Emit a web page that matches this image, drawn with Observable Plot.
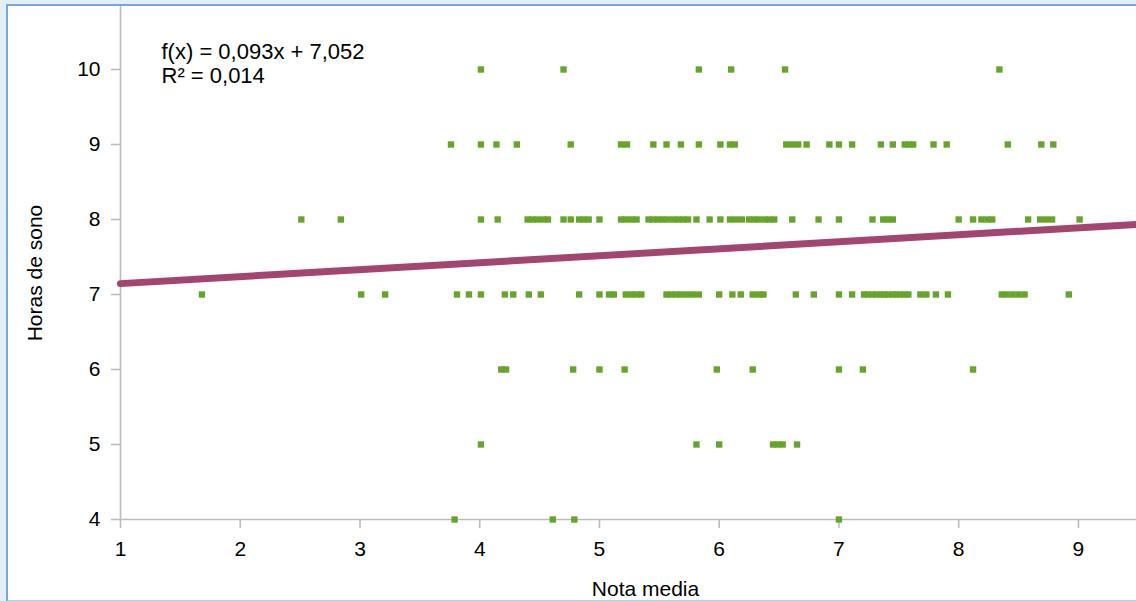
<!DOCTYPE html>
<html>
<head>
<meta charset="utf-8">
<script src="https://cdn.jsdelivr.net/npm/d3@7"></script>
<script src="https://cdn.jsdelivr.net/npm/@observablehq/plot@0.6"></script>
<style>
  html, body { margin: 0; padding: 0; background: #e2eef8; overflow: hidden; }
  #wrap { position: relative; width: 1136px; height: 601px; overflow: hidden; }
  #panel { position: absolute; left: 6px; top: 4px; width: 1140px; height: 594px;
           background: #ffffff; border-left: 2px solid #78a6d8; border-top: 2px solid #78a6d8;
           border-bottom: 2px solid #b4d0ec; }
  #chart { position: absolute; left: 0; top: 0; }
</style>
</head>
<body>
<div id="wrap"><div id="panel"></div><div id="chart"></div></div>
<script>
// Nota media (x) for each value of Horas de sono (y)
const horas10 = [4.01, 4.70, 5.83, 6.10, 6.55, 8.34];
const horas9 = [3.76, 4.01, 4.14, 4.31, 4.76, 5.18, 5.23, 5.45, 5.56, 5.68, 5.83, 6.01, 6.09, 6.13,
  6.56, 6.61, 6.66, 6.73, 6.92, 7.00, 7.11, 7.35, 7.45, 7.55, 7.59, 7.62, 7.79, 7.90, 8.41, 8.69, 8.79];
const horas8 = [2.51, 2.84, 4.01, 4.15, 4.40, 4.44, 4.48, 4.53, 4.57, 4.70, 4.76, 4.83, 4.87, 4.91,
  5.00, 5.18, 5.22, 5.27, 5.31, 5.41, 5.45, 5.49, 5.53, 5.57, 5.62, 5.66, 5.70, 5.74, 5.81, 5.92,
  6.01, 6.09, 6.14, 6.19, 6.25, 6.29, 6.33, 6.38, 6.42, 6.46, 6.61, 6.83, 7.00, 7.28, 7.37, 7.41,
  7.45, 8.00, 8.12, 8.19, 8.24, 8.28, 8.58, 8.68, 8.73, 8.78, 9.01];
const horas7 = [1.68, 3.01, 3.21, 3.81, 3.91, 4.01, 4.21, 4.28, 4.41, 4.51, 4.83, 5.00, 5.08, 5.12,
  5.22, 5.27, 5.31, 5.35, 5.56, 5.60, 5.64, 5.68, 5.73, 5.78, 5.83, 6.00, 6.11, 6.18, 6.28, 6.33,
  6.37, 6.64, 6.79, 7.00, 7.11, 7.21, 7.24, 7.28, 7.31, 7.35, 7.38, 7.41, 7.45, 7.48, 7.51, 7.55,
  7.58, 7.68, 7.73, 7.81, 7.91, 8.36, 8.40, 8.45, 8.50, 8.55, 8.92];
const horas6 = [4.18, 4.22, 4.78, 5.00, 5.21, 5.98, 6.28, 7.00, 7.20, 8.12];
const horas5 = [4.01, 5.81, 6.00, 6.45, 6.49, 6.53, 6.65];
const horas4 = [3.79, 4.61, 4.79, 7.00];

const xTicks = [1, 2, 3, 4, 5, 6, 7, 8, 9];
const yTicks = [4, 5, 6, 7, 8, 9, 10];
const xDomain = [1, 9.485];
const yDomain = [4, 10.84];

// Trend line (linear regression shown on the chart)
const slope = 0.093;
const intercept = 7.052;
const r2 = 0.014;

const rows = [[4, horas4], [5, horas5], [6, horas6], [7, horas7], [8, horas8], [9, horas9], [10, horas10]];
const data = rows.flatMap(([h, xs]) => xs.map(n => ({nota: n, horas: h})));
const trend = xDomain.map(x => ({nota: x, horas: intercept + slope * x}));
const fmt = (v, d) => v.toFixed(d).replace(".", ",");
const eqText = `f(x) = ${fmt(slope, 3)}x + ${fmt(intercept, 3)}\nR² = ${fmt(r2, 3)}`;

const axisColor = "#bcbcbc";
const chart = Plot.plot({
  width: 1136,
  height: 601,
  marginLeft: 120,
  marginRight: 0,
  marginTop: 6,
  marginBottom: 82,
  style: {background: "transparent", fontFamily: "'Liberation Sans', Arial, sans-serif", fontSize: "21px", color: "#000"},
  x: {domain: xDomain},
  y: {domain: yDomain},
  marks: [
    Plot.ruleX([xDomain[0]], {stroke: axisColor, strokeWidth: 1.6}),
    Plot.ruleY([yDomain[0]], {stroke: axisColor, strokeWidth: 1.6}),
    Plot.axisX({ticks: xTicks, tickSize: 9, tickPadding: 13, stroke: axisColor, strokeWidth: 1.6, label: null, tickFormat: d => String(d), fill: "#000"}),
    Plot.axisY({ticks: yTicks, tickSize: 9, tickPadding: 11, stroke: axisColor, strokeWidth: 1.6, label: null, tickFormat: d => String(d), fill: "#000"}),
    Plot.dot(data, {x: "nota", y: "horas", symbol: "square", r: 3.6, fill: "#67a52a", stroke: null}),
    Plot.line(trend, {x: "nota", y: "horas", stroke: "#a4456f", strokeWidth: 7}),
    Plot.text([eqText], {frameAnchor: "top-left", dx: 41, dy: 35, lineAnchor: "top", lineHeight: 1.1, textAnchor: "start", fill: "#000", fontSize: 22}),
    Plot.text(["Horas de sono"], {frameAnchor: "left", dx: -85, dy: 10, rotate: -90, textAnchor: "middle", fill: "#000", fontSize: 21}),
    Plot.text(["Nota media"], {frameAnchor: "bottom", dx: 17, dy: 76, textAnchor: "middle", fill: "#000", fontSize: 21})
  ]
});
document.getElementById("chart").appendChild(chart);
</script>
</body>
</html>
